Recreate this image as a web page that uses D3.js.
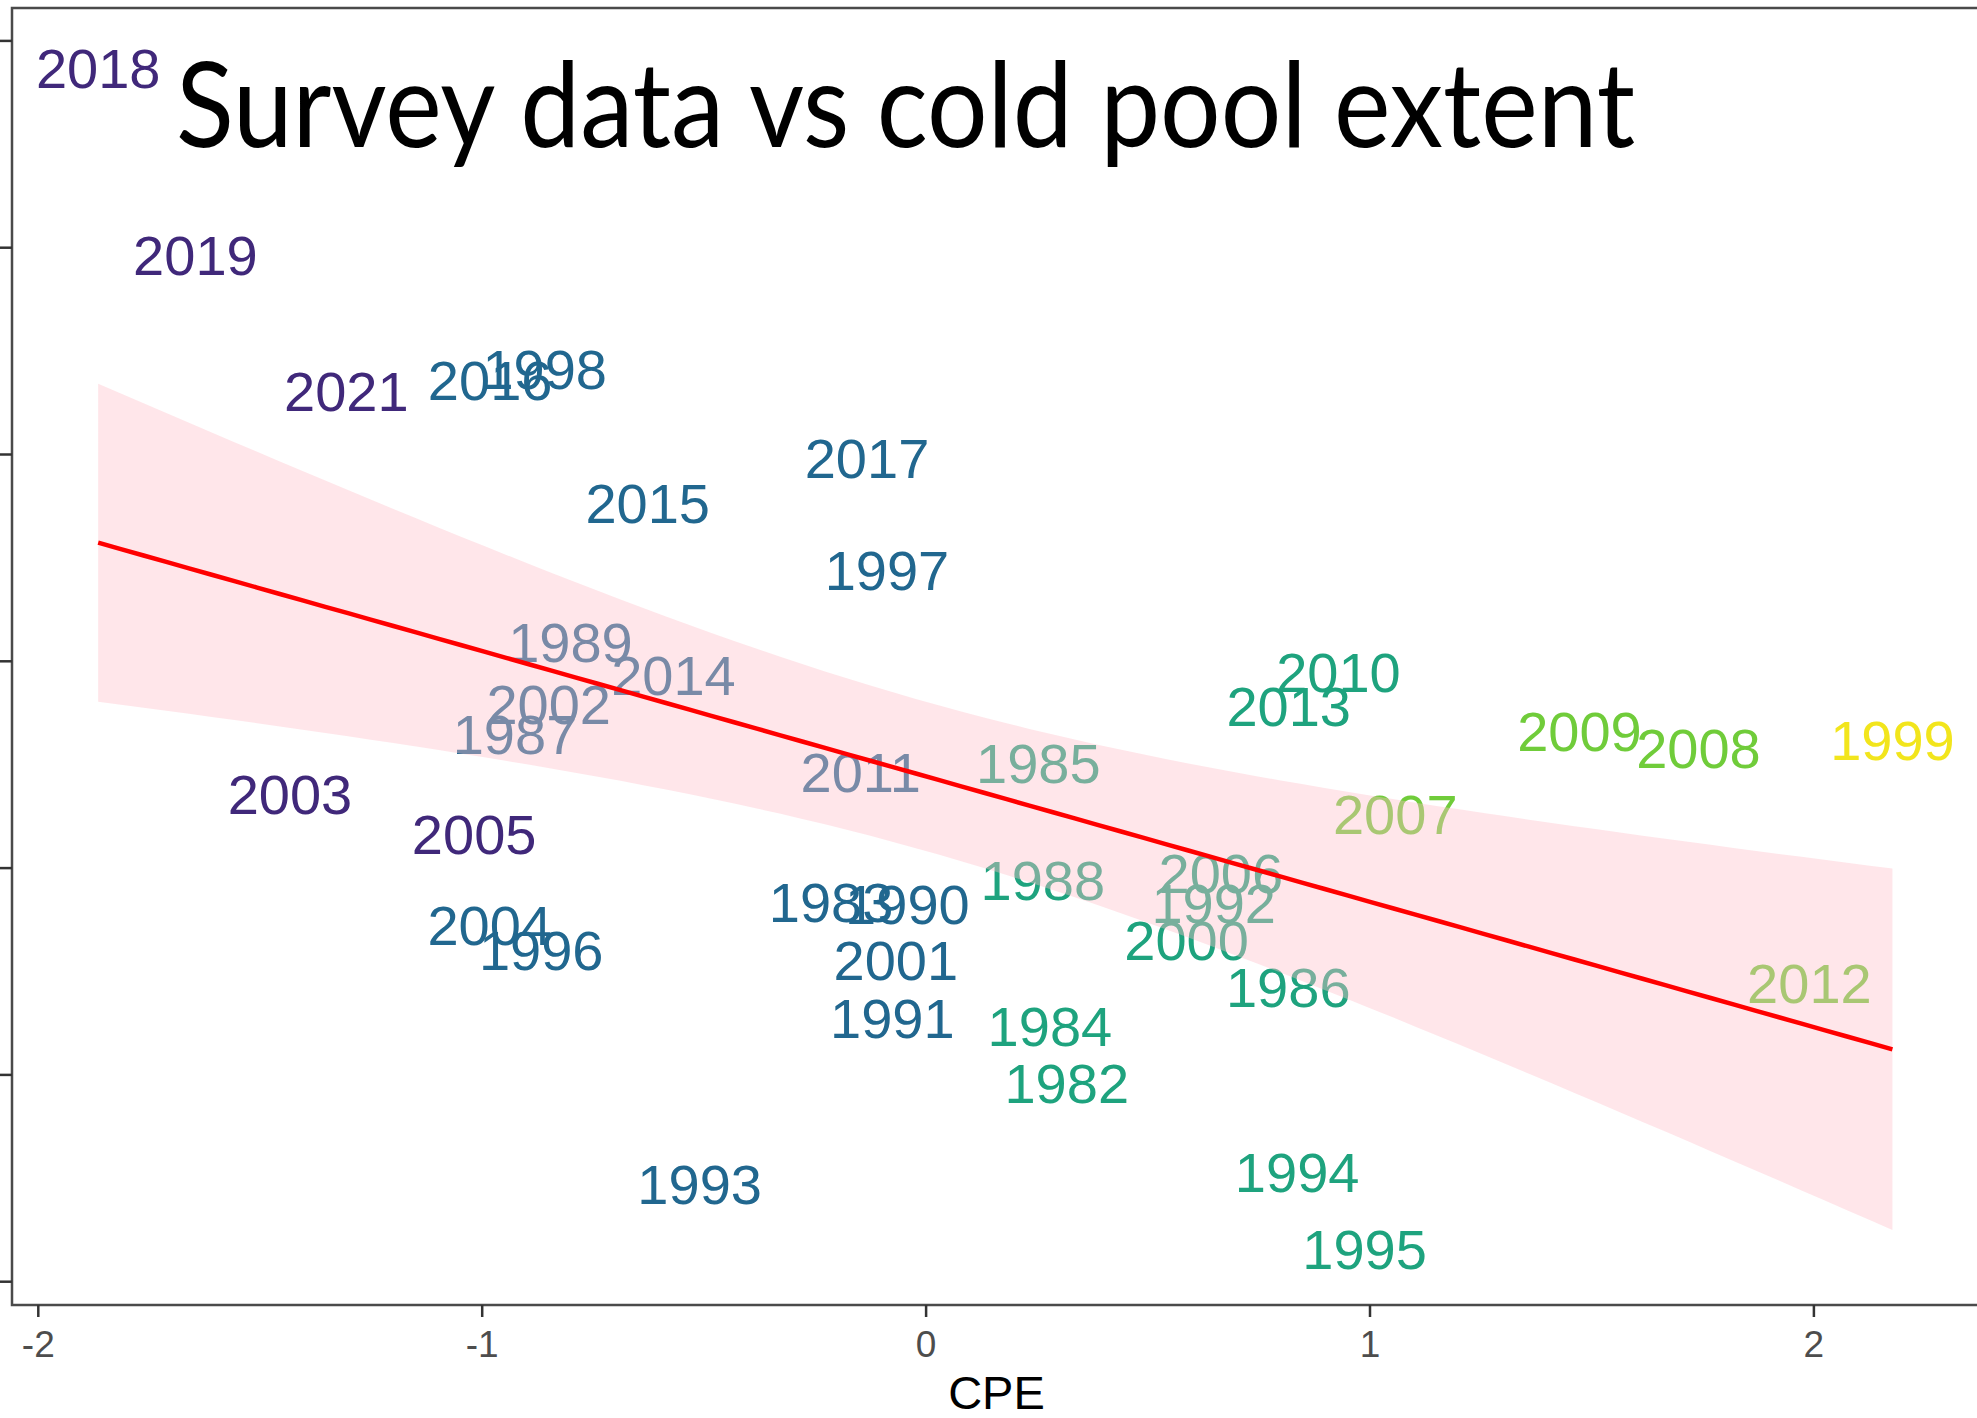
<!DOCTYPE html>
<html>
<head>
<meta charset="utf-8">
<script src="https://cdn.jsdelivr.net/npm/d3@7"></script>
<style>
  html, body { margin: 0; padding: 0; background: #ffffff; overflow: hidden; }
  svg { display: block; }
</style>
</head>
<body>
<svg id="chart" width="1977" height="1418"></svg>
<script>
// Survey years, standardized cold pool extent (CPE) and survey index
const years = [2018, 2019, 2021, 2016, 1998, 2015, 2017, 1997, 1989, 2014,
               2002, 1987, 2003, 2005, 2011, 1985, 2010, 2013, 2009, 2008,
               1999, 2007, 2006, 1992, 2000, 1988, 1983, 1990, 2004, 1996,
               2001, 1991, 1986, 1984, 1982, 2012, 1993, 1994, 1995];
const cpe = [-1.864, -1.645, -1.305, -0.981, -0.858, -0.626, -0.132, -0.087, -0.800, -0.568,
             -0.849, -0.925, -1.432, -1.017, -0.146, 0.254, 0.930, 0.818, 1.473, 1.741,
             2.178, 1.058, 0.665, 0.649, 0.588, 0.264, -0.213, -0.041, -0.982, -0.866,
             -0.067, -0.075, 0.817, 0.280, 0.318, 1.991, -0.509, 0.837, 0.989];
const surveyIndex = [2.869, 1.963, 1.305, 1.360, 1.412, 0.765, 0.982, 0.439, 0.091, -0.067,
                     -0.207, -0.354, -0.646, -0.835, -0.537, -0.494, -0.055, -0.220, -0.341, -0.421,
                     -0.384, -0.741, -1.024, -1.171, -1.348, -1.061, -1.165, -1.177, -1.277, -1.396,
                     -1.448, -1.729, -1.576, -1.765, -2.040, -1.558, -2.530, -2.473, -2.845];

// Axis ticks and labels
const xTicks = [-2, -1, 0, 1, 2];
const yTicks = [-3, -2, -1, 0, 1, 2, 3];
const xTitle = "CPE";
const chartTitle = "Survey data vs cold pool extent";

// CPE classes used for label colour
const cpeBreaks = [-1, 0, 1, 2];
const classColors = ["#40287a", "#21678f", "#1ea37e", "#70cc3a", "#f2e51c"];

const W = 1977, H = 1418;
const panel = { left: 12, right: 1981, top: 8, bottom: 1305 };

const svg = d3.select("#chart");
svg.append("rect").attr("width", W).attr("height", H).attr("fill", "#ffffff");

const x = d3.scaleLinear().domain([-2, 2]).range([37.8, 1813.4]);
const y = d3.scaleLinear().domain([-3, 3]).range([1281.2, 40.4]);
const color = d3.scaleThreshold().domain(cpeBreaks).range(classColors);

const points = years.map((yr, i) => ({ year: yr, x: cpe[i], y: surveyIndex[i] }));

// Linear fit with 95% confidence band
const n = points.length;
const mx = d3.mean(points, d => d.x);
const my = d3.mean(points, d => d.y);
const sxx = d3.sum(points, d => (d.x - mx) ** 2);
const sxy = d3.sum(points, d => (d.x - mx) * (d.y - my));
const slope = sxy / sxx;
const intercept = my - slope * mx;
const rss = d3.sum(points, d => (d.y - (intercept + slope * d.x)) ** 2);
const sigma = Math.sqrt(rss / (n - 2));
const tCrit = 2.026; // Student t, 97.5% quantile, 37 df
const [xMin, xMax] = d3.extent(points, d => d.x);
const fit = d3.range(80).map(k => {
  const xv = xMin + (xMax - xMin) * k / 79;
  const yhat = intercept + slope * xv;
  const se = sigma * Math.sqrt(1 / n + (xv - mx) ** 2 / sxx);
  return { x: xv, y: yhat, lo: yhat - tCrit * se, hi: yhat + tCrit * se };
});

const plot = svg.append("g");
plot.append("clipPath").attr("id", "panelClip")
  .append("rect")
  .attr("x", panel.left).attr("y", panel.top)
  .attr("width", panel.right - panel.left).attr("height", panel.bottom - panel.top);

const inner = plot.append("g").attr("clip-path", "url(#panelClip)");

// Year labels
const labelSize = 56;
inner.append("g").selectAll("text")
  .data(points)
  .join("text")
  .attr("x", d => x(d.x))
  .attr("y", d => y(d.y))
  .attr("dy", "0.358em")
  .attr("text-anchor", "middle")
  .attr("font-family", "'Liberation Sans', Arial, sans-serif")
  .attr("font-size", labelSize)
  .attr("fill", d => color(d.x))
  .text(d => d.year);

// Confidence ribbon and fitted line
inner.append("path")
  .datum(fit)
  .attr("fill", "#ffc0cb")
  .attr("fill-opacity", 0.4)
  .attr("d", d3.area().x(d => x(d.x)).y0(d => y(d.lo)).y1(d => y(d.hi)));

inner.append("path")
  .datum(fit)
  .attr("fill", "none")
  .attr("stroke", "#ff0000")
  .attr("stroke-width", 4.5)
  .attr("d", d3.line().x(d => x(d.x)).y(d => y(d.y)));

// Panel border
svg.append("rect")
  .attr("x", panel.left).attr("y", panel.top)
  .attr("width", panel.right - panel.left).attr("height", panel.bottom - panel.top)
  .attr("fill", "none")
  .attr("stroke", "#4a4a4a")
  .attr("stroke-width", 2.5);

// Axes
const xAxis = svg.append("g")
  .attr("transform", `translate(0,${panel.bottom})`)
  .call(d3.axisBottom(x).tickValues(xTicks).tickSize(12).tickPadding(14)
        .tickFormat(d => String(d)));
xAxis.select(".domain").remove();
xAxis.selectAll("line").attr("stroke", "#333333").attr("stroke-width", 2.5);
xAxis.selectAll("text")
  .attr("font-family", "'Liberation Sans', Arial, sans-serif")
  .attr("font-size", 37)
  .attr("fill", "#4d4d4d");

const yAxis = svg.append("g")
  .attr("transform", `translate(${panel.left},0)`)
  .call(d3.axisLeft(y).tickValues(yTicks).tickSize(12).tickFormat(""));
yAxis.select(".domain").remove();
yAxis.selectAll("line").attr("stroke", "#333333").attr("stroke-width", 2.5);

// Axis title
svg.append("text")
  .attr("x", (panel.left + panel.right) / 2)
  .attr("y", 1409)
  .attr("text-anchor", "middle")
  .attr("font-family", "'Liberation Sans', Arial, sans-serif")
  .attr("font-size", 47)
  .attr("fill", "#000000")
  .text(xTitle);

// Slide title
svg.append("text")
  .attr("x", 176)
  .attr("y", 147)
  .attr("font-family", "Lato, 'Open Sans', sans-serif")
  .attr("font-size", 118)
  .attr("textLength", 1459)
  .attr("lengthAdjust", "spacingAndGlyphs")
  .attr("fill", "#000000")
  .text(chartTitle);
</script>
</body>
</html>
